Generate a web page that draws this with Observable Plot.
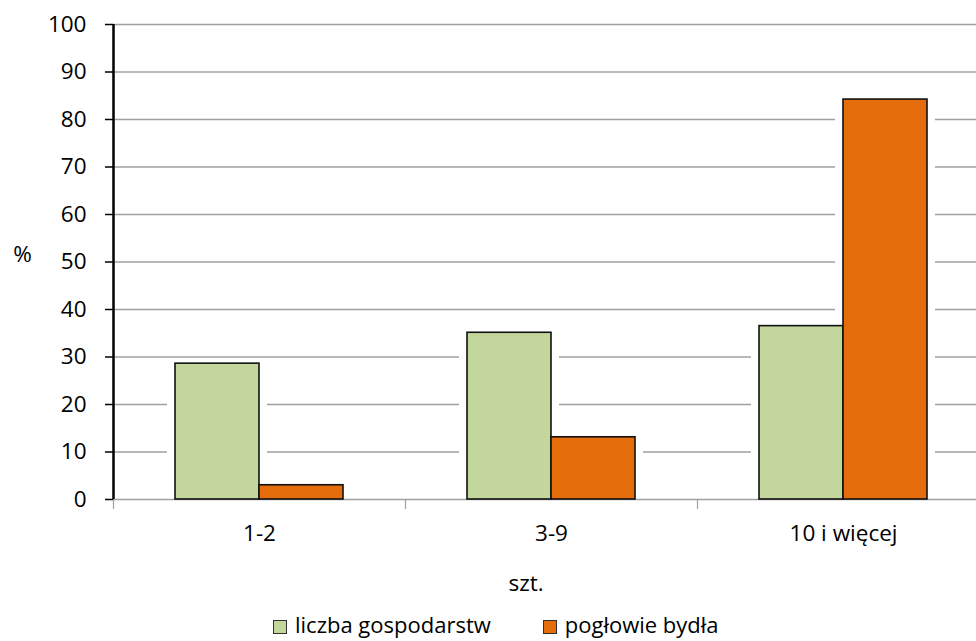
<!DOCTYPE html>
<html><head><meta charset="utf-8">
<script src="https://cdn.jsdelivr.net/npm/d3@7"></script>
<script src="https://cdn.jsdelivr.net/npm/@observablehq/plot@0.6"></script>
<style>
body{margin:0;background:#fff;font-family:"Open Sans",sans-serif;}
#wrap{position:relative;width:976px;height:641px;overflow:hidden;background:#fff}
#legend{position:absolute;left:273px;top:610px;font-size:22px;display:flex;gap:52px;color:#000;white-space:nowrap;line-height:28px}
.sw{display:inline-block;width:12px;height:12px;border:1px solid #303030;margin-right:8px;vertical-align:-1px}
</style></head><body><div id="wrap"><div id="chart"></div><div id="legend"></div></div>
<script>
const categories = ["1-2", "3-9", "10 i więcej"];
const series = ["liczba gospodarstw", "pogłowie bydła"];
const gospodarstwa = [28.6, 35.1, 36.5];
const bydlo = [3.0, 13.1, 84.2];
const yTicks = [0, 10, 20, 30, 40, 50, 60, 70, 80, 90, 100];
const colors = ["#c3d69b", "#e46c0a"];
const xLabel = "szt.";
const yLabel = "%";

const gData = categories.map((c, i) => ({cat: c, s: series[0], v: gospodarstwa[i]}));
const oData = categories.map((c, i) => ({cat: c, s: series[1], v: bydlo[i]}));

const plot = Plot.plot({
  width: 976,
  height: 600,
  marginTop: 24,
  marginBottom: 101,
  marginLeft: 113,
  marginRight: 0,
  style: {fontFamily: "'Open Sans', sans-serif", color: "#000", background: "#fff"},
  x: {domain: categories, range: [113, 989], padding: 0},
  y: {domain: [0, 100]},
  marks: [
    Plot.ruleY(yTicks.filter(t => t > 0), {stroke: "#a0a0a0", strokeWidth: 1.6}),
    Plot.barY(gData, {x: "cat", y: "v", fill: "#fff", insetLeft: 54, insetRight: 138}),
    Plot.barY(oData, {x: "cat", y: "v", fill: "#fff", insetLeft: 138, insetRight: 54}),
    Plot.ruleY([0], {stroke: "#a0a0a0", strokeWidth: 1.6}),
    Plot.ruleX(categories, {x: d => d, y1: 0, y2: 0, dx: -146, insetBottom: -10, stroke: "#a0a0a0", strokeWidth: 1.2}),
    Plot.barY(gData, {x: "cat", y: "v", fill: colors[0], stroke: "#111", strokeWidth: 1.6, insetLeft: 62, insetRight: 146}),
    Plot.barY(oData, {x: "cat", y: "v", fill: colors[1], stroke: "#111", strokeWidth: 1.6, insetLeft: 146, insetRight: 62}),
    Plot.ruleX([categories[0]], {x: d => d, y1: 0, y2: 100, dx: -146, stroke: "#000", strokeWidth: 2.5}),
    Plot.axisY(yTicks, {tickSize: 8, tickPadding: 19, fontSize: 22.5, stroke: "#000", strokeWidth: 1.5, label: null}),
    Plot.axisX({tickSize: 0, tickPadding: 26, fontSize: 22.5, label: null}),
    Plot.text([xLabel], {text: d => d, frameAnchor: "bottom", lineAnchor: "middle", dx: -19, dy: 84, fontSize: 22.5}),
    Plot.text([yLabel], {text: d => d, frameAnchor: "left", textAnchor: "middle", lineAnchor: "middle", dx: -91, dy: -7, fontSize: 22.5})
  ]
});
document.getElementById("chart").appendChild(plot);

const legend = document.getElementById("legend");
series.forEach((s, i) => {
  const item = document.createElement("span");
  const sw = document.createElement("span");
  sw.className = "sw";
  sw.style.background = colors[i];
  item.appendChild(sw);
  item.appendChild(document.createTextNode(s));
  legend.appendChild(item);
});
</script>
</body></html>
